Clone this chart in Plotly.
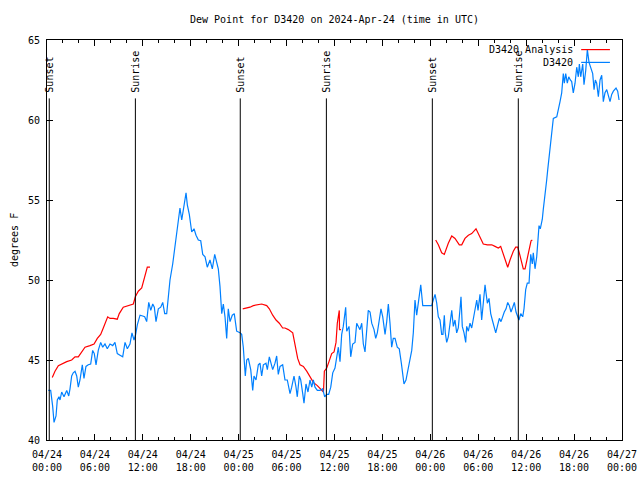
import pandas as pd
import plotly.graph_objects as go

START = pd.Timestamp("2024-04-24 00:00")
TITLE = "Dew Point for D3420 on 2024-Apr-24 (time in UTC)"
Y_LABEL = "degrees F"

# Observed dew point D3420: hours since 2024-04-24 00:00 UTC, degrees F
obs_hours = [
    0.16, 0.46, 0.71, 0.88, 1.13, 1.29, 1.50, 1.63, 1.84, 2.13, 2.47, 2.72, 2.88, 3.09, 3.29, 3.51,
    3.72, 3.92, 4.13, 4.42, 4.63, 4.88, 5.17, 5.47, 5.72, 5.92, 6.14, 6.42, 6.72, 6.98, 7.26, 7.55,
    7.89, 8.23, 8.51, 8.80, 9.14, 9.48, 9.77, 10.06, 10.39, 10.64, 10.89, 11.06, 11.31, 11.65, 11.98,
    12.23, 12.48, 12.74, 12.99, 13.24, 13.44, 13.65, 13.94, 14.24, 14.49, 14.74, 14.99, 15.19, 15.40,
    15.74, 16.03, 16.24, 16.44, 16.65, 16.87, 17.16, 17.41, 17.57, 17.82, 18.12, 18.41, 18.66, 18.95,
    19.25, 19.50, 19.79, 20.07, 20.41, 20.70, 21.00, 21.25, 21.45, 21.66, 21.88, 22.08, 22.29, 22.50,
    22.70, 22.92, 23.20, 23.45, 23.75, 24.17, 24.38, 24.58, 24.83, 25.01, 25.21, 25.51, 25.76, 25.92,
    26.17, 26.46, 26.67, 26.88, 27.09, 27.42, 27.59, 27.84, 28.01, 28.26, 28.55, 28.76, 28.96, 29.18,
    29.51, 29.80, 30.09, 30.43, 30.64, 30.93, 31.18, 31.34, 31.59, 31.77, 32.02, 32.18, 32.43, 32.68,
    32.93, 33.15, 33.35, 33.56, 33.85, 34.19, 34.52, 34.77, 35.02, 35.27, 35.53, 35.78, 36.06, 36.28,
    36.48, 36.69, 36.90, 37.10, 37.40, 37.53, 37.82, 38.03, 38.28, 38.57, 38.78, 38.98, 39.19, 39.41,
    39.61, 39.82, 40.03, 40.23, 40.45, 40.66, 40.95, 41.16, 41.36, 41.57, 41.82, 42.04, 42.33, 42.54,
    42.74, 42.95, 43.16, 43.36, 43.58, 43.86, 44.11, 44.37, 44.54, 44.70, 44.95, 45.24, 45.45, 45.67,
    45.87, 46.08, 46.29, 46.49, 46.80, 47.05, 47.33, 47.87, 48.17, 48.37, 48.59, 48.80, 49.00, 49.21,
    49.42, 49.58, 49.75, 49.87, 50.05, 50.25, 50.46, 50.68, 50.88, 51.09, 51.30, 51.50, 51.72, 51.84,
    52.00, 52.22, 52.43, 52.55, 52.76, 52.97, 53.18, 53.38, 53.59, 53.81, 53.97, 54.22, 54.43, 54.63,
    54.85, 54.97, 55.14, 55.35, 55.56, 55.76, 55.97, 56.19, 56.39, 56.64, 56.85, 57.06, 57.26, 57.48,
    57.69, 57.89, 58.10, 58.32, 58.52, 58.73, 58.89, 59.10, 59.32, 59.57, 59.73, 59.94, 60.14, 60.36,
    60.57, 60.77, 60.89, 61.11, 61.32, 61.52, 61.61, 61.77, 62.02, 62.14, 62.27, 62.44, 62.57, 62.70,
    62.86, 62.99, 63.07, 63.20, 63.40, 63.83, 64.03, 64.24, 64.45, 64.65, 64.78, 64.95, 65.15, 65.33,
    65.53, 65.70, 65.90, 66.12, 66.33, 66.53, 66.66, 66.83, 67.08, 67.24, 67.46, 67.66, 67.87, 68.08,
    68.33, 68.50, 68.66, 68.83, 69.04, 69.25, 69.46, 69.66, 69.87, 70.09, 70.29, 70.50, 70.71, 70.92,
    71.25, 71.46, 71.63,
]
obs_dewpt = [
    43.1, 43.1, 42.1, 41.1, 41.5, 42.5, 42.7, 42.5, 43.0, 42.7, 43.1, 42.75, 43.2, 44.0, 44.2, 44.3,
    44.0, 43.3, 43.75, 44.7, 43.85, 44.6, 44.7, 44.75, 45.6, 45.4, 44.7, 45.6, 46.1, 45.8, 46.0, 45.7,
    46.0, 45.9, 46.1, 45.4, 45.3, 45.2, 46.1, 45.7, 46.0, 46.7, 46.25, 46.5, 47.2, 47.8, 47.75,
    47.7, 47.4, 48.6, 48.1, 48.5, 48.3, 47.4, 48.2, 48.3, 48.6, 47.9, 47.9, 48.95, 50.0,
    51.0, 52.1, 53.2, 53.75, 54.5, 53.75, 54.8, 55.45, 54.7, 54.1, 53.0, 53.2, 52.8, 52.5,
    52.45, 51.6, 51.45, 50.8, 51.25, 50.7, 51.6, 51.0, 50.7, 49.6, 47.9, 48.5, 47.7, 46.35,
    48.2, 47.4, 47.8, 47.9, 46.8, 46.7, 46.6, 45.8, 44.0, 45.0, 45.1, 44.4, 43.1, 44.0,
    43.75, 44.7, 44.8, 44.0, 44.7, 44.8, 44.4, 45.2, 44.9, 44.4, 44.8, 45.25, 44.1, 44.6,
    44.7, 43.75, 43.75, 42.9, 43.3, 44.0, 43.3, 42.7, 44.0, 43.75, 42.9, 42.3, 43.5, 43.0,
    43.75, 43.3, 43.75, 43.3, 43.1, 43.1, 43.2, 42.7, 42.85, 42.85, 43.3, 44.2, 44.5, 45.2,
    45.8, 44.9, 46.6, 47.1, 48.3, 46.8, 47.1, 45.2, 46.0, 46.1, 47.3, 47.1, 46.9, 47.3,
    46.0, 45.5, 46.9, 48.1, 48.0, 47.3, 46.9, 46.35, 46.7, 47.4, 48.2, 47.7, 46.6, 47.4,
    48.5, 47.3, 45.8, 46.35, 46.35, 45.8, 45.7, 44.8, 44.1, 43.5, 43.75, 44.6, 45.0, 45.6,
    46.7, 48.75, 47.8, 48.7, 49.7, 48.4, 48.4, 48.4, 48.4, 48.75, 49.1, 48.55, 47.7, 47.5,
    46.6, 46.6, 47.8, 46.7, 46.1, 46.45, 47.3, 48.1, 47.1, 47.5, 46.7, 47.0, 48.2, 48.95,
    47.1, 46.7, 46.1, 47.1, 46.8, 47.3, 47.0, 47.6, 48.3, 48.75, 48.1, 49.1, 47.5, 48.75,
    49.7, 49.2, 48.55, 48.85, 47.9, 47.5, 47.1, 46.7, 47.1, 47.6, 47.4, 47.8, 48.0, 48.2,
    48.6, 48.4, 48.0, 48.3, 48.6, 48.0, 47.8, 47.5, 47.9, 47.7, 48.2, 49.4, 49.8, 49.8,
    51.6, 51.0, 51.7, 50.7, 51.45, 52.5, 53.4, 53.2, 53.8, 54.4, 55.1, 55.7, 56.25, 56.9,
    57.6, 58.2, 58.85, 59.4, 60.1, 60.2, 60.6, 61.15, 61.7, 62.9, 62.3, 62.9, 62.3, 62.7,
    62.5, 62.4, 61.7, 62.3, 63.3, 62.7, 63.5, 62.7, 63.5, 62.2, 63.1, 64.4, 63.6, 63.2,
    62.9, 61.9, 62.5, 62.3, 61.45, 62.5, 62.8, 61.15, 61.7, 61.9, 61.45, 61.15, 61.6, 61.8,
    62.0, 61.8, 61.25,
]

# Analysis dew point (None marks gaps between analysis periods)
ana_hours = [
    0.66, 1.00, 1.42, 2.04, 2.47, 3.09, 3.51, 3.92, 4.35, 4.76, 5.38, 5.89, 6.30, 6.72, 7.05, 7.35,
    7.60, 7.89, 8.30, 8.80, 9.05, 9.55, 10.18, 10.81, 11.06, 11.43, 11.86, 12.15, 12.40, 12.56, 12.90,
    18.0,
    24.51, 25.01, 25.42, 25.83, 26.88, 27.51, 27.84, 28.26, 28.68, 29.09, 29.51, 29.80, 30.22, 30.77,
    31.06, 31.39, 31.68, 32.10, 32.52, 32.93, 33.35, 33.85, 34.40, 34.62, 34.73, 35.03, 35.31, 35.65,
    35.94, 36.19, 36.35, 36.48, 36.60, 36.63, 36.82,
    42.0,
    48.67, 49.00, 49.42, 49.75, 50.25, 50.68, 51.09, 51.63, 51.93, 52.34, 52.76, 53.18, 53.72, 54.13,
    54.63, 55.14, 55.69, 56.10, 56.51, 56.81, 57.14, 57.44, 57.69, 57.98, 58.39, 58.69, 58.94, 59.14,
    59.44, 59.64, 59.86, 60.07, 60.36, 60.61, 60.77,
]
ana_dewpt = [
    43.9, 44.3, 44.65, 44.8, 44.9, 45.0, 45.2, 45.2, 45.5, 45.8, 45.9, 46.0, 46.35, 46.6, 47.0, 47.4,
    47.7, 47.6, 47.6, 47.55, 47.9, 48.3, 48.4, 48.5, 48.95, 49.3, 49.5, 50.1, 50.6, 50.8, 50.8,
    None,
    48.2, 48.25, 48.3, 48.4, 48.5, 48.4, 48.2, 47.8, 47.5, 47.3, 47.0, 47.0, 46.9, 46.7,
    46.0, 45.1, 44.7, 44.6, 44.3, 43.95, 43.6, 43.4, 43.1, 43.0, 44.3, 44.5, 44.9, 45.4,
    45.5, 46.1, 47.3, 47.9, 48.1, 46.9, 46.9,
    None,
    52.5, 52.2, 51.7, 51.6, 52.3, 52.75, 52.6, 52.2, 52.2, 52.6, 52.8, 52.9, 53.2, 52.75,
    52.25, 52.2, 52.2, 52.1, 52.0, 52.1, 51.6, 51.1, 50.8, 51.25, 51.8, 52.05, 52.05, 51.7,
    51.1, 50.7, 50.7, 51.25, 51.9, 52.45, 52.5,
]

# Sun events (UTC)
sun_labels = ["Sunset", "Sunrise", "Sunset", "Sunrise", "Sunset", "Sunrise"]
sun_times = ["2024-04-24 00:17", "2024-04-24 11:04", "2024-04-25 00:12",
             "2024-04-25 10:59", "2024-04-26 00:15", "2024-04-26 11:01"]

series_names = ["D3420 Analysis", "D3420"]
series_colors = ["#ff0000", "#0080ff"]

FONT = "DejaVu Sans Mono"

def to_time(hours):
    return [START + pd.Timedelta(hours=h) for h in hours]

fig = go.Figure()
fig.add_trace(go.Scatter(x=to_time(ana_hours), y=ana_dewpt, mode="lines",
                         name=series_names[0], line=dict(color=series_colors[0], width=1.2),
                         connectgaps=False, showlegend=False))
fig.add_trace(go.Scatter(x=to_time(obs_hours), y=obs_dewpt, mode="lines",
                         name=series_names[1], line=dict(color=series_colors[1], width=1.2),
                         showlegend=False))

Y_MIN, Y_MAX = 40, 65
LINE_TOP = 61.35
LABEL_BOTTOM = 61.6

for lab, t in zip(sun_labels, sun_times):
    fig.add_shape(type="line", xref="x", yref="y", x0=t, x1=t, y0=Y_MIN, y1=LINE_TOP,
                  line=dict(color="black", width=1))
    fig.add_annotation(x=t, y=LABEL_BOTTOM, xref="x", yref="y", text=lab, textangle=-90,
                       showarrow=False, xanchor="center", yanchor="bottom",
                       font=dict(family=FONT, size=10, color="black"))

# Legend (text left of sample line, like the original)
leg_y = [0.976, 0.944]
for name, col, yy in zip(series_names, series_colors, leg_y):
    fig.add_annotation(x=0.918, y=yy, xref="paper", yref="paper", text=name, showarrow=False,
                       xanchor="right", yanchor="middle", font=dict(family=FONT, size=10, color="black"))
    fig.add_shape(type="line", xref="paper", yref="paper", x0=0.929, x1=0.979, y0=yy, y1=yy,
                  line=dict(color=col, width=1.2))

# Y axis title
fig.add_annotation(x=0, y=0.5, xref="paper", yref="paper", xshift=-33, text=Y_LABEL,
                   textangle=-90, showarrow=False, xanchor="center", yanchor="middle",
                   font=dict(family=FONT, size=10, color="black"))

fig.update_layout(
    width=640, height=480,
    margin=dict(l=47, r=18, t=40, b=40, autoexpand=False),
    paper_bgcolor="white", plot_bgcolor="white",
    font=dict(family=FONT, size=10, color="black"),
    title=dict(text=TITLE, x=0.5, xref="paper", y=1 - 19 / 480, yanchor="middle",
               font=dict(family=FONT, size=10, color="black"), automargin=False),
    showlegend=False,
    hovermode=False,
)
fig.update_xaxes(
    type="date", range=["2024-04-24 00:00", "2024-04-27 00:00"], automargin=False,
    tick0="2024-04-24", dtick=6 * 3600 * 1000, tickformat="%m/%d<br>%H:%M",
    ticks="inside", ticklen=6, tickcolor="black", showline=True, linecolor="black", linewidth=1,
    mirror="allticks", showgrid=False, zeroline=False, ticklabelstandoff=5,
    minor=dict(dtick=2 * 3600 * 1000, ticks="inside", ticklen=3, tickcolor="black", showgrid=False),
    tickfont=dict(family=FONT, size=10),
)
fig.update_yaxes(
    range=[Y_MIN, Y_MAX], dtick=5, ticks="inside", ticklen=6, tickcolor="black", automargin=False,
    showline=True, linecolor="black", linewidth=1, mirror="allticks", showgrid=False,
    zeroline=False, ticklabelstandoff=4, tickfont=dict(family=FONT, size=10),
)

fig.write_html("out.html", config={"displayModeBar": False, "staticPlot": True},
               post_script="document.body.style.margin='0';")
